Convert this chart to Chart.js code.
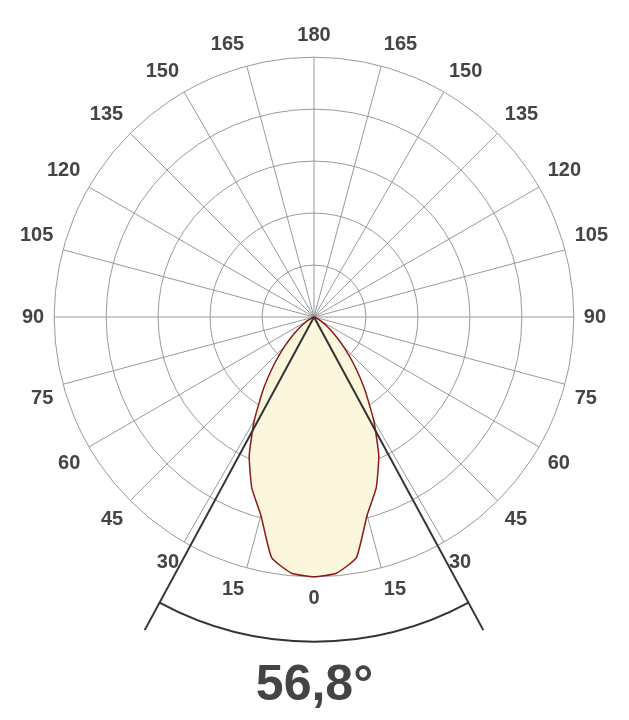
<!DOCTYPE html>
<html>
<head>
<meta charset="utf-8">
<script src="https://cdn.jsdelivr.net/npm/chart.js@4/dist/chart.umd.min.js"></script>
<style>
  html, body { margin: 0; padding: 0; background: #fff; }
  #wrap { width: 629px; height: 720px; }
</style>
</head>
<body>
<div id="wrap"><canvas id="chart" width="629" height="720"></canvas></div>
<script>
// gamma angles (0 = straight down) and relative intensity, ring units (outer ring = 5)
const gammaAngles = [0, 5, 10, 15, 20, 25, 30, 35, 40, 45, 50, 55, 60, 65, 70];
const intensity   = [5.0, 4.95, 4.7, 3.95, 3.5, 2.95, 2.3, 1.7, 1.2, 0.8, 0.5, 0.3, 0.15, 0.05, 0];
const beamAngle = 56.8;

// labels every 5 degrees going clockwise from the top (180)
const labels = [];
const values = [];
for (let i = 0; i < 72; i++) {
  const g = i <= 36 ? 180 - 5 * i : 5 * i - 180;
  labels.push(String(g));
  const k = gammaAngles.indexOf(g);
  values.push(k >= 0 ? intensity[k] : 0);
}

// beam angle lines + arc
const beamPlugin = {
  id: 'beam',
  afterDatasetsDraw(chart) {
    const s = chart.scales.r;
    const ctx = chart.ctx;
    const cx = s.xCenter, cy = s.yCenter, R = s.drawingArea;
    const half = beamAngle / 2 * Math.PI / 180;
    ctx.save();
    ctx.strokeStyle = '#333';
    ctx.lineWidth = 2;
    [-1, 1].forEach(sg => {
      ctx.beginPath();
      ctx.moveTo(cx, cy);
      ctx.lineTo(cx + sg * Math.sin(half) * R * 1.37, cy + Math.cos(half) * R * 1.37);
      ctx.stroke();
    });
    ctx.beginPath();
    ctx.arc(cx, cy, R * 1.25, Math.PI / 2 - half, Math.PI / 2 + half);
    ctx.stroke();
    ctx.restore();
  }
};

new Chart(document.getElementById('chart'), {
  type: 'radar',
  data: {
    labels: labels,
    datasets: [{
      data: values,
      borderColor: '#8b1a1a',
      backgroundColor: '#fcf7dc',
      borderWidth: 1.5,
      fill: true,
      pointRadius: 0,
      tension: 0.15
    }]
  },
  options: {
    responsive: false,
    animation: false,
    layout: { padding: { top: 0, left: 20, right: 20, bottom: 0 } },
    plugins: {
      legend: { display: false },
      tooltip: { enabled: false },
      title: {
        display: true,
        position: 'bottom',
        text: beamAngle.toFixed(1).replace('.', ',') + '°',
        color: '#444',
        font: { family: 'Liberation Sans', size: 50, weight: 'bold' },
        padding: { top: 22, bottom: 4 }
      }
    },
    scales: {
      r: {
        min: 0,
        max: 5,
        ticks: { display: false, stepSize: 1 },
        grid: { circular: true, color: '#999', lineWidth: 1 },
        angleLines: {
          color: c => (c.index % 3 === 0 ? '#999' : 'rgba(0,0,0,0)'),
          lineWidth: 1
        },
        pointLabels: {
          callback: (l, i) => (i % 3 === 0 ? l : ''),
          color: '#444',
          font: { family: 'Liberation Sans', size: 20, weight: 'bold' },
          padding: 10
        }
      }
    }
  },
  plugins: [beamPlugin]
});
</script>
</body>
</html>
